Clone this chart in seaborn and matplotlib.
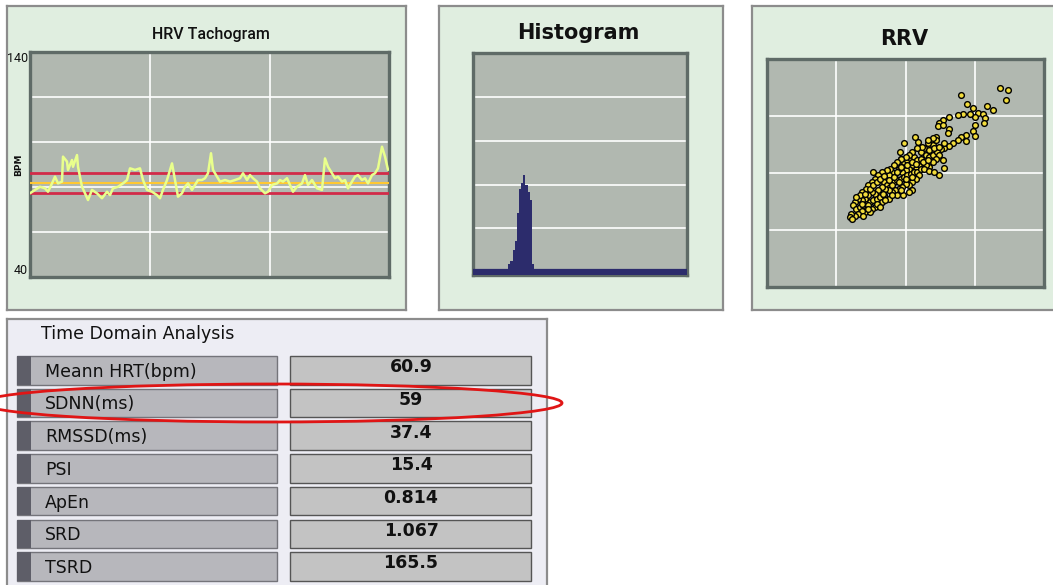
import matplotlib
matplotlib.use("Agg")
import matplotlib.pyplot as plt
from matplotlib.patches import Rectangle, Ellipse
import seaborn as sns

# ---- values ----
# HRV tachogram (time in arbitrary samples, heart rate in bpm)
tach_time = [0, 5, 10, 15, 18, 22, 25, 28, 32, 33, 37, 38, 42, 43, 47, 48, 52, 55, 58, 62,
             67, 72, 77, 80, 83, 88, 93, 97, 100, 105, 110, 113, 117, 122, 127, 130, 133, 137, 142, 145,
             148, 152, 155, 158, 162, 165, 168, 172, 175, 178, 181, 183, 187, 190, 195, 200, 205, 210, 213, 217,
             220, 223, 227, 230, 235, 238, 242, 247, 250, 253, 257, 260, 263, 267, 272, 275, 278, 282, 287, 292,
             295, 298, 302, 305, 308, 312, 315, 318, 322, 325, 328, 332, 335, 338, 342, 345, 348, 352, 355, 358]
tach_bpm = [77.2, 78.7, 80.1, 79.4, 77.9, 81.6, 84.6, 81.6, 82.4, 93.5, 91.3, 87.6, 92.0, 89.0, 94.2, 89.0, 80.1, 77.2, 74.2, 78.7,
            77.2, 75.0, 77.9, 76.4, 79.4, 80.1, 81.6, 83.1, 88.3, 87.6, 88.3, 83.1, 78.7, 77.9, 76.4, 75.0, 78.7, 83.1, 90.5, 83.1,
            75.7, 77.2, 80.1, 81.6, 78.7, 80.9, 83.1, 83.1, 83.9, 86.1, 95.0, 87.6, 84.6, 82.4, 83.1, 82.4, 83.1, 83.9, 86.1, 83.1,
            85.3, 83.9, 82.4, 79.4, 77.2, 77.9, 80.9, 81.6, 83.1, 82.4, 83.9, 80.9, 77.9, 80.1, 81.6, 85.3, 80.9, 83.1, 79.4, 78.7,
            92.7, 89.0, 86.1, 83.9, 84.6, 82.4, 83.1, 79.4, 82.4, 84.6, 85.3, 83.1, 83.9, 81.6, 85.3, 86.1, 88.3, 97.9, 93.5, 87.6]
tach_mean = 81.8
tach_upper = 86.2
tach_lower = 77.3

# RR histogram (bin centre in ms, share in %)
hist_rr = [340, 360, 380, 400, 420, 440, 460, 480, 500, 520, 540, 560]
hist_pct = [2.0, 2.6, 5.2, 7.1, 13.5, 19.1, 20.3, 22.1, 19.9, 18.4, 16.5, 1.9]

# RRV scatter (RR n vs RR n+1, ms)
rr_n = [1679, 1737, 1725, 1403, 1444, 1488, 1591, 1635, 1525, 1557, 1574, 1566, 1505, 1464, 1415, 1378,
        1313, 1269, 1239, 1232, 1269, 1313, 1305, 1500, 1488, 1500, 1439, 1439, 1403, 1378, 1342, 1313,
        1281, 1256, 1220, 1183, 1195, 1159, 1134, 1110, 1093, 1069, 988, 959, 971, 988, 1012, 1037,
        1061, 1086, 1110, 1147, 1171, 1195, 1225, 1244, 1220, 1195, 1171, 1147, 1127, 1098, 1073, 1049,
        1025, 1000, 976, 951, 927, 903, 878, 854, 842, 866, 890, 915, 939, 964, 988, 1012,
        1037, 1061, 1086, 1098, 1073, 1049, 1025, 1000, 976, 951, 927, 903, 878, 854, 829, 805,
        781, 756, 732, 707, 683, 659, 634, 622, 646, 671, 695, 720, 744, 768, 793, 817,
        842, 829, 805, 781, 756, 732, 707, 683, 659, 634, 610, 598, 615, 695, 744, 793,
        817, 768, 1281, 1239, 1269, 1049, 981, 939, 878, 854, 834, 903, 951, 1000, 1049, 1110,
        1159, 1171, 1208, 1244, 1281, 1220, 1195, 1159, 1122, 1086, 1049, 1025, 1000, 964, 939, 915,
        890, 866, 829, 805, 781, 756, 732, 712, 683, 671, 646, 707, 744, 768, 793, 817,
        842, 878, 915, 939, 971, 1012, 1044, 1073, 1134, 1171, 1208, 1025, 964, 903, 732, 683]
rr_next = [1744, 1729, 1638, 1685, 1609, 1568, 1585, 1550, 1524, 1515, 1479, 1435, 1494, 1515, 1515, 1509,
           1494, 1465, 1435, 1415, 1421, 1385, 1347, 1421, 1368, 1326, 1332, 1279, 1318, 1288, 1259, 1238,
           1221, 1209, 1315, 1279, 1250, 1259, 1215, 1185, 1268, 1318, 1259, 1180, 1121, 1097, 1112, 1121,
           1141, 1112, 1127, 1156, 1141, 1162, 1185, 1156, 1121, 1097, 1053, 1068, 1097, 1062, 1038, 1068,
           1038, 1024, 1009, 1038, 994, 1009, 980, 950, 921, 891, 877, 921, 935, 950, 965, 980,
           994, 1009, 1009, 980, 950, 921, 891, 906, 877, 862, 847, 833, 847, 862, 877, 847,
           818, 833, 803, 774, 759, 774, 744, 715, 686, 700, 715, 730, 744, 759, 774, 788,
           803, 744, 715, 700, 686, 715, 656, 671, 641, 627, 641, 612, 597, 627, 656, 730,
           700, 1009, 1044, 985, 1112, 847, 809, 803, 774, 759, 818, 891, 921, 950, 965, 1038,
           1112, 1200, 1215, 1230, 1259, 1288, 1303, 1288, 1230, 1215, 1185, 1162, 1141, 1127, 1097, 1068,
           1038, 1024, 1009, 980, 950, 921, 891, 862, 833, 803, 788, 818, 862, 891, 921, 950,
           974, 935, 965, 1009, 1053, 1074, 1097, 1083, 1038, 1015, 1009, 833, 847, 803, 686, 730]

# Time domain analysis table
td_labels = ["Meann HRT(bpm)", "SDNN(ms)", "RMSSD(ms)", "PSI", "ApEn", "SRD", "TSRD"]
td_values = ["60.9", "59", "37.4", "15.4", "0.814", "1.067", "165.5"]

# ---- styling ----
sns.set_style("white")
PANEL_BG = "#e0eee0"
PLOT_BG = "#b1b8b0"
NAVY = "#2c2c6c"
INK = "#111111"
W, H = 1053, 585

fig = plt.figure(figsize=(W / 100, H / 100), dpi=100, facecolor="white")


def px_axes(x0, y0, x1, y1):
    # axes placed by pixel box (top-left origin)
    return fig.add_axes([x0 / W, 1 - y1 / H, (x1 - x0) / W, (y1 - y0) / H])


def panel(x0, y0, x1, y1, face, edge="#8c8c8c"):
    ax = px_axes(x0, y0, x1, y1)
    ax.set_facecolor(face)
    ax.set_xticks([])
    ax.set_yticks([])
    for s in ax.spines.values():
        s.set_color(edge)
        s.set_linewidth(1.6)
    return ax


def style_plot(ax):
    ax.set_facecolor(PLOT_BG)
    for s in ax.spines.values():
        s.set_color("#5f6b67")
        s.set_linewidth(2.4)
    ax.tick_params(length=0, labelleft=False, labelbottom=False)
    ax.set_xlabel("")
    ax.set_ylabel("")
    ax.set_axisbelow(True)


# panel frames
panel(7, 6, 406, 310, PANEL_BG)
panel(439, 6, 723, 310, PANEL_BG)
panel(752, 6, 1062, 310, PANEL_BG)

# HRV tachogram
ax1 = px_axes(30, 52, 389, 277)
sns.lineplot(x=tach_time, y=tach_bpm, ax=ax1, color="#e9ff8c", lw=1.8, zorder=5)
ax1.axhline(tach_upper, color="#d22a48", lw=2, zorder=3)
ax1.axhline(tach_lower, color="#d22a48", lw=2, zorder=3)
ax1.axhline(tach_mean, color="#ffc832", lw=1.5, zorder=3)
ax1.set_xlim(0, 359)
ax1.set_ylim(40, 140)
ax1.set_xticks([120, 240])
ax1.set_yticks([60, 80, 100, 120])
style_plot(ax1)
ax1.grid(True, color="white", lw=1.2)
narrow = ["Roboto", "DejaVu Sans"]
ax1.text(-0.005, 1.0, "140", transform=ax1.transAxes, ha="right", va="top",
         fontsize=9, family=narrow, color=INK)
ax1.text(-0.005, 0.0, "40", transform=ax1.transAxes, ha="right", va="bottom",
         fontsize=9, family=narrow, color=INK)
ax1.text(-0.02, 0.5, "BPM", transform=ax1.transAxes, ha="right", va="center",
         rotation=90, fontsize=6.5, fontweight="bold", color=INK)
fig.text(211 / W, 1 - 34 / H, "HRV Tachogram", ha="center", va="center",
         fontsize=11.5, family=narrow, fontweight="medium", color=INK)

# Histogram
ax2 = px_axes(473, 53, 687, 275)
hist_edges = [c - 10 for c in hist_rr] + [hist_rr[-1] + 10]
sns.histplot(x=hist_rr, weights=hist_pct, bins=hist_edges, ax=ax2, color=NAVY,
             alpha=1, edgecolor=NAVY, linewidth=0, zorder=3)
ax2.axhline(0, color=NAVY, lw=4.5, zorder=4)
ax2.set_xlim(0, 2000)
ax2.set_ylim(-0.6, 50)
ax2.set_xticks([])
ax2.set_yticks([10, 20, 30, 40])
style_plot(ax2)
ax2.grid(True, axis="y", color="white", lw=1.2)
fig.text(578 / W, 1 - 33 / H, "Histogram", ha="center", va="center",
         fontsize=15, fontweight="bold", color=INK)

# RRV scatter
ax3 = px_axes(767, 59, 1044, 287)
sns.scatterplot(x=rr_n, y=rr_next, ax=ax3, color="#f2dc3c", edgecolor="black",
                s=17, linewidth=1.0, zorder=3)
ax3.set_xlim(0, 2000)
ax3.set_ylim(0, 2000)
ax3.set_xticks([500, 1000, 1500])
ax3.set_yticks([500, 1000, 1500])
style_plot(ax3)
ax3.grid(True, color="white", lw=1.2)
fig.text(904 / W, 1 - 39 / H, "RRV", ha="center", va="center",
         fontsize=15, fontweight="bold", color=INK)

# Time domain analysis table
axt = px_axes(7, 319, 547, 600)
axt.set_xlim(7, 547)
axt.set_ylim(600, 319)
axt.set_facecolor("#ededf4")
axt.set_xticks([])
axt.set_yticks([])
for s in axt.spines.values():
    s.set_color("#8c8c8c")
    s.set_linewidth(1.6)
axt.text(41, 334, "Time Domain Analysis", ha="left", va="center", fontsize=12.5,
         color=INK)

row_top, pitch, row_h = 356, 32.7, 28.5
for i, (lab, val) in enumerate(zip(td_labels, td_values)):
    y = row_top + i * pitch
    axt.add_patch(Rectangle((17, y), 260, row_h, fc="#b7b7bc", ec="#74747a", lw=1))
    axt.add_patch(Rectangle((17, y), 14, row_h, fc="#5e5e68", ec="none"))
    axt.add_patch(Rectangle((290, y), 241, row_h, fc="#c3c3c3", ec="#555555", lw=1))
    axt.text(45, y + row_h / 2 + 1.5, lab, ha="left", va="center", fontsize=12.5,
             color=INK)
    axt.text(411, y + row_h / 2 - 3, val, ha="center", va="center", fontsize=12.5,
             fontweight="bold", color=INK)

axt.add_patch(Ellipse((272, 403), 580, 38, fill=False, ec="#e01515", lw=2,
                      clip_on=False, zorder=10))

fig.savefig("out.png", dpi=100, facecolor="white")
